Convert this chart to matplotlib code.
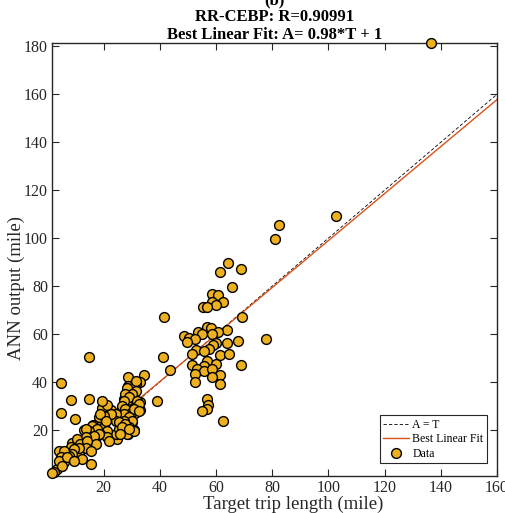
import matplotlib
matplotlib.use("Agg")
import matplotlib.pyplot as plt
import numpy as np

# Target (T) and ANN output (A) values
target = [
    136.4, 102.9, 82.4, 81.2, 64.3, 68.8, 61.6, 65.8, 58.7, 60.8, 62.5, 58.7, 60.1, 55.5, 56.9,
    69.2, 41.4, 64.0, 56.9, 58.4, 60.7, 53.6, 54.9, 48.8, 50.4, 52.4, 49.8, 58.7, 60.1, 63.8,
    67.7, 77.8, 58.8, 57.5, 53.0, 55.7, 51.6, 61.3, 64.5, 56.7, 51.6, 59.9, 68.8, 55.9, 53.1,
    55.7, 58.7, 52.4, 61.4, 58.7, 52.4, 61.6, 56.9, 57.1, 56.7, 54.9, 62.6, 41.2, 43.8, 39.1,
    14.8, 4.7, 8.3, 14.8, 4.7, 9.8,
    28.8, 34.3, 32.9, 31.4, 29.9, 28.6, 30.8, 29.0, 27.2, 29.6, 31.4, 32.9, 32.9, 30.8, 31.1,
    29.4, 30.8, 31.4, 26.7, 26.0, 28.4, 27.8, 28.6, 25.8, 30.2, 31.0, 28.6, 24.9, 24.3, 25.5,
    28.4, 31.4, 30.2, 27.8, 29.0, 32.0, 32.6, 27.2, 26.7, 27.8, 29.6, 30.8, 32.6, 27.2, 29.0,
    30.2, 27.2, 29.0, 27.8, 28.4, 30.8,
    19.5, 21.3, 22.5, 24.3, 21.9, 24.3, 20.1, 18.3, 19.5, 21.3, 19.5, 13.0, 14.8, 16.3, 16.8,
    18.3, 20.1, 21.3, 18.9, 17.2, 21.3, 21.9,
    25.4, 27.8, 26.7, 29.0, 26.0, 16.0, 17.8, 14.8, 13.6, 18.3, 16.5, 13.6, 11.2, 8.9, 8.3,
    10.6, 12.4, 14.8, 17.2, 4.1, 7.6, 6.5, 9.4, 11.2, 12.4, 5.9, 4.7, 3.5, 2.3, 1.7, 15.4,
    21.3, 22.5, 20.1, 18.9, 20.7,
    10.6, 11.8, 14.2, 13.6, 11.2, 9.4, 15.4, 8.9, 7.6, 5.9, 4.7, 4.1, 5.3, 7.1, 9.4,
]
output = [
    181.4, 109.3, 105.5, 99.6, 89.6, 87.3, 85.8, 79.7, 76.9, 76.5, 73.6, 73.2, 72.1, 71.5, 71.4,
    67.1, 67.3, 61.9, 62.8, 62.5, 61.0, 61.1, 60.0, 59.3, 58.3, 57.9, 56.9, 60.0, 56.1, 56.5,
    57.1, 57.8, 55.4, 53.7, 53.3, 53.0, 51.9, 51.2, 51.7, 48.9, 47.1, 47.5, 47.3, 46.8, 45.4,
    44.7, 45.4, 43.2, 42.8, 42.2, 40.1, 39.4, 33.0, 30.3, 28.7, 27.8, 23.7, 50.5, 45.0, 32.2,
    50.3, 39.6, 32.5, 32.9, 27.3, 24.6,
    42.2, 43.0, 40.1, 39.2, 37.8, 38.5, 36.4, 35.4, 32.9, 32.5, 32.2, 31.5, 28.3, 29.2, 27.3,
    27.0, 38.0, 40.5, 28.8, 26.0, 24.6, 21.8, 20.0, 23.2, 23.2, 20.0, 18.3, 16.3, 18.3, 20.4,
    37.7, 36.4, 35.0, 35.0, 33.6, 32.2, 30.8, 32.2, 30.1, 28.7, 27.3, 28.7, 28.0, 26.7, 25.3,
    23.9, 23.9, 21.1, 19.7, 18.3, 19.7,
    28.0, 27.3, 28.3, 26.7, 25.3, 23.9, 24.6, 25.5, 29.2, 30.6, 32.0, 20.1, 20.0, 22.2, 20.1,
    21.4, 21.1, 19.7, 18.3, 17.2, 16.9, 15.3,
    23.2, 22.5, 21.1, 20.4, 18.3, 21.8, 20.4, 19.7, 20.4, 18.3, 17.6, 16.9, 14.8, 14.8, 12.8,
    12.8, 13.5, 12.1, 14.2, 11.1, 10.0, 8.6, 8.9, 10.0, 7.9, 6.5, 5.1, 3.8, 2.3, 1.9, 5.8,
    26.0, 26.7, 26.0, 26.7, 23.9,
    16.2, 14.2, 15.5, 12.7, 12.7, 12.1, 11.4, 10.0, 9.3, 11.4, 8.6, 6.9, 5.1, 8.6, 7.2,
]

fit_slope = 0.98
fit_intercept = 1.0
x_ticks = [20, 40, 60, 80, 100, 120, 140, 160]
y_ticks = [20, 40, 60, 80, 100, 120, 140, 160, 180]

plt.rcParams['font.family'] = ['Liberation Serif', 'DejaVu Serif']

fig = plt.figure(figsize=(5.06, 5.13), dpi=100)
ax = fig.add_axes([0.103, 0.072, 0.879, 0.844])

xmin, xmax = 1.7, 160
xl = np.array([xmin, xmax])
h1, = ax.plot(xl, xl, linestyle=(0, (4, 2.5)), color='black', linewidth=0.6, zorder=2, label='A = T')
h2, = ax.plot(xl, fit_slope * xl + fit_intercept, color='#D95319', linewidth=1.0, zorder=2,
              label='Best Linear Fit')
h3 = ax.scatter(target, output, s=50, facecolor='#EDB120', edgecolor='black', linewidth=1.0,
                zorder=3, label='Data', clip_on=False)

ax.set_xlim(xmin, xmax)
ax.set_ylim(0.8, 181.4)
ax.set_xticks(x_ticks)
ax.set_yticks(y_ticks)
ax.tick_params(direction='in', top=True, right=True, labelsize=11.5, length=5, width=0.8,
               colors='#262626', pad=3)
for s in ax.spines.values():
    s.set_linewidth(1.0)
    s.set_color('#262626')

ax.set_xlabel('Target trip length (mile)', fontsize=13.5, color='#262626')
ax.set_ylabel('ANN output (mile)', fontsize=13.5, color='#262626')
ax.xaxis.label.set_va('center')
ax.yaxis.label.set_va('center')
ax.xaxis.set_label_coords(0.543, -0.066)
ax.yaxis.set_label_coords(-0.081, 0.435)
ax.set_title('(b)\nRR-CEBP: R=0.90991\nBest Linear Fit: A= 0.98*T + 1',
             fontsize=12, fontweight='bold', pad=3, linespacing=1.12)

leg = ax.legend(handles=[h1, h2, h3], loc='lower right', fontsize=8.5, frameon=True,
                fancybox=False, edgecolor='#262626', framealpha=1, borderpad=0.3,
                handlelength=2.2, handletextpad=0.25, labelspacing=0.2, borderaxespad=0,
                bbox_to_anchor=(0.9775, 0.03))
leg.get_frame().set_linewidth(0.8)

fig.savefig('out.png', dpi=100)
